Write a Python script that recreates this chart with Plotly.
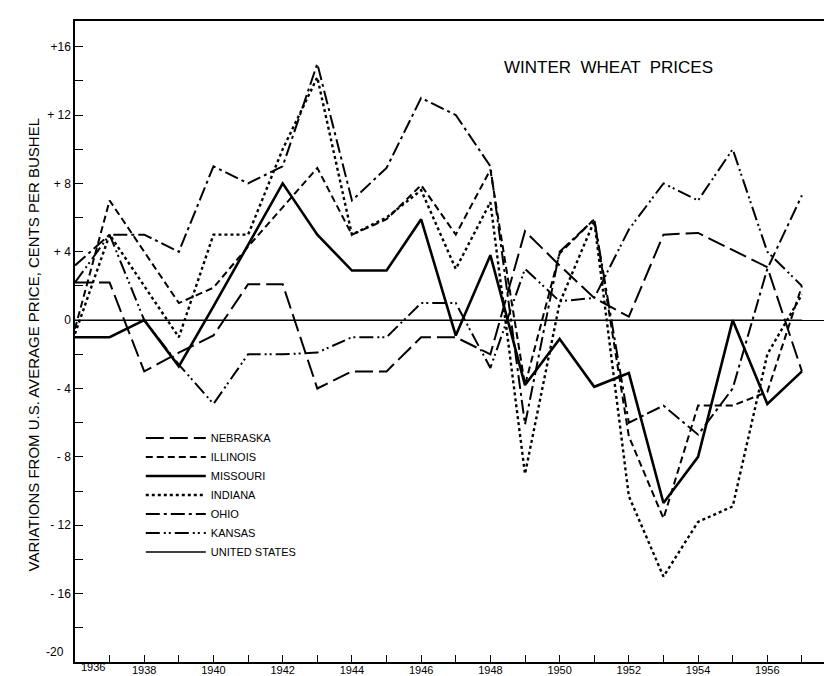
import plotly.graph_objects as go

years = list(range(1936, 1958))

nebraska = [2.2, 2.2, -3.0, -1.9, -0.9, 2.1, 2.1, -4.0, -3.0, -3.0, -1.0, -1.0, -2.0, 5.2, 3.2, 1.3, 0.2, 5.0, 5.1, 4.1, 3.1, -3.0]
illinois = [-0.5, 7.0, 4.0, 1.0, 1.9, 4.3, 6.6, 8.9, 5.0, 5.9, 7.9, 5.0, 8.8, -3.8, 3.9, 5.9, -6.8, -11.6, -5.0, -5.0, -4.2, 2.0]
missouri = [-1.0, -1.0, 0.0, -2.7, 0.8, 4.4, 8.0, 5.0, 2.9, 2.9, 5.9, -0.9, 3.8, -3.8, -1.1, -3.9, -3.1, -10.7, -8.0, 0.0, -4.9, -3.0]
indiana = [-0.8, 5.0, 2.0, -1.0, 5.0, 5.0, 10.0, 14.2, 5.0, 6.0, 7.6, 3.0, 6.9, -9.0, 1.0, 5.8, -10.3, -15.0, -11.8, -10.9, -2.0, 1.5]
ohio = [3.2, 5.0, 5.0, 4.0, 9.0, 8.0, 9.0, 15.0, 7.0, 8.9, 13.0, 12.0, 9.0, -6.1, 4.0, 5.9, -6.0, -5.0, -6.7, -4.0, 3.0, 7.3]
kansas = [2.2, 5.0, 0.0, -2.6, -4.9, -2.0, -2.0, -1.9, -1.0, -1.0, 1.0, 1.0, -2.8, 3.0, 1.1, 1.3, 5.3, 8.0, 7.0, 10.0, 4.0, 2.0]
united_states = [0.0] * len(years)

series = [
    ("NEBRASKA", nebraska, "18px,6px", 2),
    ("ILLINOIS", illinois, "7px,4px", 2),
    ("MISSOURI", missouri, "solid", 2.6),
    ("INDIANA", indiana, "dot", 2.4),
    ("OHIO", ohio, "14px,4px,3px,4px", 2),
    ("KANSAS", kansas, "14px,4px,2px,3px,2px,4px", 2),
    ("UNITED STATES", united_states, "solid", 1.5),
]

# -20 and 1936 are placed by hand below so they don't collide at the corner
y_ticks = [-16, -12, -8, -4, 0, 4, 8, 12, 16]
y_tick_text = ["- 16", "- 12", "- 8", "- 4", "0", "+ 4", "+ 8", "+ 12", "+16"]

font = "Liberation Sans, Arial, sans-serif"

fig = go.Figure()
for name, vals, dash, w in series:
    fig.add_trace(go.Scatter(
        x=years,
        y=vals,
        mode="lines",
        name=name,
        line=dict(color="black", width=w, dash=dash),
    ))

fig.update_layout(
    width=832,
    height=676,
    margin=dict(l=67, r=0, t=13, b=22),
    plot_bgcolor="white",
    paper_bgcolor="white",
    font=dict(family=font, color="black", size=12),
    showlegend=True,
    legend=dict(
        x=0.086, y=0.372, xanchor="left", yanchor="top",
        bgcolor="rgba(0,0,0,0)",
        font=dict(size=11, family=font),
        tracegroupgap=0,
        itemwidth=60,
    ),
    annotations=[
        dict(text="WINTER  WHEAT  PRICES", x=0.698, y=0.927, xref="paper", yref="paper",
             xanchor="center", yanchor="middle", showarrow=False,
             font=dict(size=17, family=font)),
        dict(text="VARIATIONS FROM U.S. AVERAGE PRICE, CENTS PER BUSHEL",
             x=-0.054, y=0.495, xref="paper", yref="paper", textangle=-90,
             xanchor="center", yanchor="middle", showarrow=False,
             font=dict(size=15, family=font)),
        dict(text="-20", x=0, y=-20, xref="paper", yref="y",
             xanchor="right", yanchor="bottom", xshift=-9, yshift=1,
             showarrow=False, font=dict(size=12, family=font)),
        dict(text="1936", x=years[0], y=0, xref="x", yref="paper",
             xanchor="left", yanchor="top", xshift=4, yshift=3,
             showarrow=False, font=dict(size=11, family=font)),
    ],
)

fig.update_xaxes(
    range=[1936, 1958.1],
    tickvals=years,
    ticktext=[str(y) if y % 2 == 0 and y != years[0] else "" for y in years],
    ticks="inside", ticklen=7, tickcolor="black",
    ticklabelstandoff=-3,
    showline=True, linecolor="black", linewidth=1.5, mirror=True,
    showgrid=False, zeroline=False,
    tickfont=dict(size=11, family=font),
)
fig.update_yaxes(
    range=[-20, 17.5],
    tickvals=list(range(-20, 18, 2)),
    ticktext=[y_tick_text[y_ticks.index(v)] if v in y_ticks else "" for v in range(-20, 18, 2)],
    ticks="inside", ticklen=8, tickcolor="black",
    showline=True, linecolor="black", linewidth=1.5,
    showgrid=False, zeroline=True, zerolinecolor="black", zerolinewidth=1,
    tickfont=dict(size=12, family=font),
)

fig.write_html("out.html")
